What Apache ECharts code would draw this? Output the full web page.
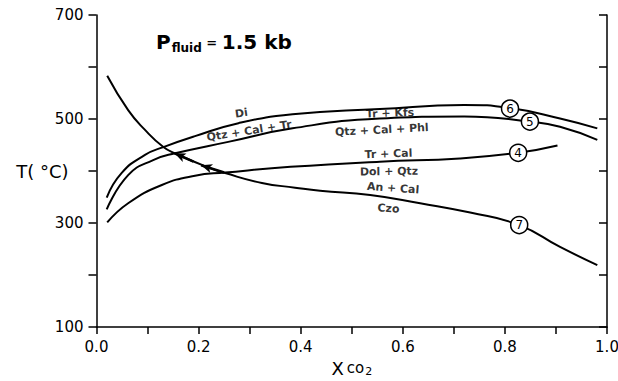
<!DOCTYPE html>
<html>
<head>
<meta charset="utf-8">
<script src="https://cdn.jsdelivr.net/npm/echarts@6/dist/echarts.min.js"></script>
<style>
  html, body { margin: 0; background: #fff; }
  #chart { width: 618px; height: 381px; }
</style>
</head>
<body>
<div id="chart"></div>
<script>
// reaction curves (X = XCO2, T = °C)
const curve4X = [0.021, 0.062, 0.128, 0.193, 0.252, 0.38, 0.555, 0.712, 0.826, 0.903];
const curve4T = [301, 338, 373, 391, 397, 408, 418, 424, 435, 449];

const curve5X = [0.02, 0.062, 0.111, 0.154, 0.258, 0.384, 0.555, 0.72, 0.849, 0.908, 0.981];
const curve5T = [326, 392, 421, 434, 456, 482, 501, 505, 495, 485, 460];

const curve6X = [0.02, 0.049, 0.095, 0.131, 0.193, 0.278, 0.384, 0.555, 0.72, 0.81, 0.908, 0.981];
const curve6T = [349, 396, 431, 446, 467, 492, 509, 519, 527, 521, 501, 482];

const curve7X = [0.021, 0.062, 0.095, 0.131, 0.154, 0.216, 0.252, 0.324, 0.389, 0.438, 0.536, 0.634, 0.732, 0.828, 0.908, 0.981];
const curve7T = [583, 517, 479, 446, 434, 408, 396, 377, 368, 362, 354, 338, 320, 296, 254, 219];

// circled reaction numbers sitting on the curves
const markerNames = ["6", "5", "4", "7"];
const markerX = [0.81, 0.849, 0.826, 0.828];
const markerT = [520, 495, 435, 296];

// assemblage labels along the curves
const labelTexts = ["Di", "Qtz + Cal + Tr", "Tr + Kfs", "Qtz + Cal + Phl", "Tr + Cal", "Dol + Qtz", "An + Cal", "Czo"];
const labelX = [0.284, 0.299, 0.575, 0.559, 0.572, 0.573, 0.581, 0.572];
const labelT = [511, 477, 511, 479, 433, 399, 367, 328];
const labelRot = [8, 9, 2, 3, 2, 1, -4, -4];

const xMin = 0, xMax = 1, xStep = 0.1;
const tMin = 100, tMax = 700, tStep = 100;
const tLabelled = [100, 300, 500, 700];

const zip = (xs, ys) => xs.map((x, i) => [x, ys[i]]);

const chart = echarts.init(document.getElementById("chart"), null, { renderer: "svg" });

const font = "'DejaVu Sans', Verdana, sans-serif";
const lineBase = {
  type: "line",
  smooth: 0.5,
  showSymbol: false,
  lineStyle: { color: "#000", width: 2 },
  silent: true,
  z: 3,
};

const option = {
  animation: false,
  backgroundColor: "#fff",
  textStyle: { fontFamily: font },
  title: {
    left: 151,
    top: 25,
    text: "{p|P}{s|fluid}{e| = }{p|1.5 kb}",
    textStyle: {
      rich: {
        p: { fontSize: 20, fontWeight: "bold", color: "#000", fontFamily: font },
        s: { fontSize: 12, fontWeight: "bold", color: "#000", fontFamily: font, padding: [12, 0, 0, 1] },
        e: { fontSize: 13, fontWeight: "bold", color: "#000", fontFamily: font },
      },
    },
  },
  grid: { left: 96.5, right: 11, top: 15, bottom: 54, outerBoundsMode: "none", containLabel: false },
  xAxis: {
    type: "value",
    min: xMin,
    max: xMax,
    interval: xStep,
    name: "{a|X}{b|co}{c|2}",
    nameLocation: "middle",
    nameGap: 32,
    nameTextStyle: {
      rich: {
        a: { fontSize: 18, color: "#000", fontFamily: font, padding: [0, 3, 0, 0] },
        b: { fontSize: 15, color: "#000", fontFamily: font },
        c: { fontSize: 11, color: "#000", fontFamily: font, padding: [6, 0, 0, 1] },
      },
    },
    axisLine: { lineStyle: { color: "#000", width: 1.5 } },
    axisTick: { inside: false, length: 7, lineStyle: { color: "#000", width: 1.5 } },
    axisLabel: {
      color: "#000",
      fontSize: 15,
      margin: 12,
      formatter: (v) => (Math.round(v * 10) % 2 === 0 ? v.toFixed(1) : ""),
    },
    splitLine: { show: false },
  },
  yAxis: [
    {
      type: "value",
      position: "left",
      min: tMin,
      max: tMax,
      interval: tStep,
      name: "T( °C)",
      nameLocation: "middle",
      nameRotate: 0,
      nameGap: 28,
      nameMoveOverlap: false,
      nameTextStyle: { fontSize: 18, color: "#000", fontFamily: font },
      axisLine: { show: true, lineStyle: { color: "#000", width: 1.5 } },
      axisTick: { inside: false, length: 8, lineStyle: { color: "#000", width: 1.5 } },
      axisLabel: {
        color: "#000",
        fontSize: 15,
        margin: 13,
        formatter: (v) => (tLabelled.includes(v) ? String(v) : ""),
      },
      splitLine: { show: false },
    },
    {
      type: "value",
      position: "right",
      min: tMin,
      max: tMax,
      interval: tStep,
      axisLine: { show: true, lineStyle: { color: "#000", width: 1.5 } },
      axisTick: { inside: true, length: 8, lineStyle: { color: "#000", width: 1.5 } },
      axisLabel: { show: false },
      splitLine: { show: false },
    },
  ],
  series: [
    { ...lineBase, name: "4", data: zip(curve4X, curve4T) },
    { ...lineBase, name: "5", data: zip(curve5X, curve5T) },
    { ...lineBase, name: "6", data: zip(curve6X, curve6T) },
    {
      ...lineBase,
      name: "7",
      data: zip(curve7X, curve7T),
      markLine: {
        silent: true,
        symbol: ["none", "arrow"],
        symbolSize: [7, 11],
        label: { show: false },
        lineStyle: { color: "#000", width: 2.5, type: "solid" },
        data: [
          [{ coord: [0.25, 397] }, { coord: [0.205, 411] }],
          [{ coord: [0.19, 418] }, { coord: [0.153, 434] }],
        ],
      },
    },
    {
      type: "scatter",
      name: "labels",
      silent: true,
      symbolSize: 0,
      z: 4,
      data: labelTexts.map((t, i) => ({
        name: t,
        value: [labelX[i], labelT[i]],
        label: { rotate: labelRot[i] },
      })),
      label: {
        show: true,
        position: "inside",
        formatter: (p) => p.name,
        color: "#000",
        fontSize: 11,
        fontWeight: "bold",
        fontFamily: font,
      },
    },
    {
      type: "scatter",
      name: "markers",
      silent: true,
      symbol: "circle",
      symbolSize: 17,
      z: 5,
      itemStyle: { color: "#fff", borderColor: "#000", borderWidth: 1.5, opacity: 1 },
      data: markerNames.map((n, i) => ({ name: n, value: [markerX[i], markerT[i]] })),
      label: {
        show: true,
        position: "inside",
        formatter: (p) => p.name,
        color: "#000",
        fontSize: 12,
        fontFamily: font,
      },
    },
  ],
};

chart.setOption(option);
</script>
</body>
</html>
